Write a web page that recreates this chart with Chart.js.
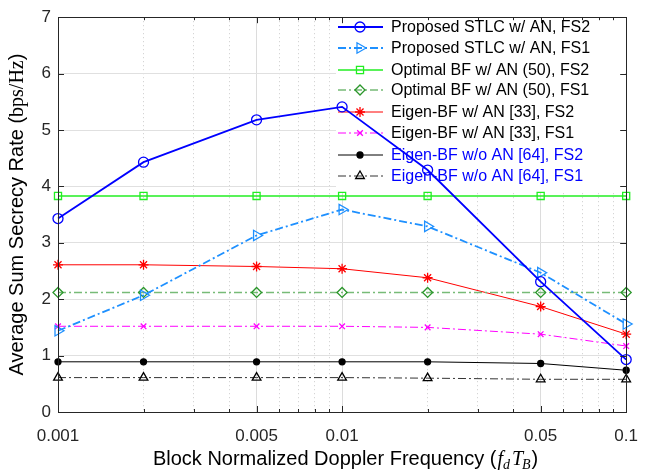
<!DOCTYPE html>
<html>
<head>
<meta charset="utf-8">
<script src="https://cdn.jsdelivr.net/npm/chart.js@4.4.0/dist/chart.umd.min.js"></script>
<style>
  html, body { margin: 0; padding: 0; background: #fff; }
</style>
</head>
<body>
<canvas id="mainChart" width="652" height="474"></canvas>
<script>
// x positions (block normalized Doppler frequency)
var dopplerFreq = [0.001, 0.002, 0.005, 0.01, 0.02, 0.05, 0.1];

// series values
var stlcFS2      = [3.43, 4.43, 5.18, 5.41, 4.29, 2.31, 0.93];
var stlcFS1      = [1.44, 2.07, 3.13, 3.59, 3.29, 2.47, 1.56];
var optBfFS2     = [3.83, 3.83, 3.83, 3.83, 3.83, 3.83, 3.83];
var optBfFS1     = [2.12, 2.12, 2.12, 2.12, 2.12, 2.12, 2.12];
var eigenAnFS2   = [2.61, 2.61, 2.58, 2.54, 2.38, 1.87, 1.38];
var eigenAnFS1   = [1.52, 1.52, 1.52, 1.52, 1.50, 1.38, 1.17];
var eigenNoAnFS2 = [0.89, 0.89, 0.89, 0.89, 0.89, 0.86, 0.74];
var eigenNoAnFS1 = [0.61, 0.61, 0.61, 0.61, 0.60, 0.58, 0.58];

// axis ticks
var xTickLabels = [0.001, 0.005, 0.01, 0.05, 0.1];
var xGridTicks = [0.001, 0.002, 0.003, 0.004, 0.005, 0.006, 0.007, 0.008, 0.009,
                  0.01, 0.02, 0.03, 0.04, 0.05, 0.06, 0.07, 0.08, 0.09, 0.1];
var yTicks = [0, 1, 2, 3, 4, 5, 6, 7];

var DASHDOT = [8, 3, 2, 3];

function isMajor(v) {
    return xTickLabels.some(function (t) { return Math.abs(t - v) < 1e-9; });
}

function makeSet(label, data, color, dash, width, style, radius, markerColor, fill, rot, textColor) {
    return {
        label: label,
        data: data,
        borderColor: color,
        borderWidth: width,
        borderDash: dash,
        pointStyle: style,
        pointRadius: radius,
        pointRotation: rot || 0,
        pointBorderColor: markerColor || color,
        pointBackgroundColor: fill || 'rgba(0,0,0,0)',
        pointBorderWidth: 1.3,
        fill: false,
        clip: false,
        tension: 0,
        legendTextColor: textColor || '#000'
    };
}

var datasets = [
    makeSet('Proposed STLC w/ AN, FS2', stlcFS2, '#0000ff', [], 1.8, 'circle', 5),
    makeSet('Proposed STLC w/ AN, FS1', stlcFS1, '#1e90ff', DASHDOT, 1.8, 'triangle', 6, null, null, 90),
    makeSet('Optimal BF w/ AN (50), FS2', optBfFS2, '#22ee22', [], 1.3, 'rect', 5),
    makeSet('Optimal BF w/ AN (50), FS1', optBfFS1, '#77bb77', DASHDOT, 1.6, 'rectRot', 5, '#2a962a'),
    makeSet('Eigen-BF w/ AN [33], FS2', eigenAnFS2, '#ff0000', [], 1, 'star', 5),
    makeSet('Eigen-BF w/ AN [33], FS1', eigenAnFS1, '#ff00ff', DASHDOT, 1, 'crossRot', 4),
    makeSet('Eigen-BF w/o AN [64], FS2', eigenNoAnFS2, '#000000', [], 1, 'circle', 3, '#000', '#000', 0, '#0000ff'),
    makeSet('Eigen-BF w/o AN [64], FS1', eigenNoAnFS1, '#333333', DASHDOT, 1, 'triangle', 5, '#000', null, 0, '#0000ff')
];

var legendRows = [27, 48, 70, 90, 112, 133, 155, 176];

// white legend box drawn over the grid, under the lines
var insideLegend = {
    id: 'insideLegend',
    beforeDatasetsDraw: function (chart) {
        var ctx = chart.ctx;
        var area = chart.chartArea;
        ctx.save();
        ctx.fillStyle = '#fff';
        ctx.fillRect(336, area.top + 1, area.right - 337, 174);
        datasets.forEach(function (ds, i) {
            var y = legendRows[i];
            ctx.strokeStyle = ds.borderColor;
            ctx.lineWidth = ds.borderWidth;
            ctx.setLineDash(ds.borderDash);
            ctx.beginPath();
            ctx.moveTo(338, y);
            ctx.lineTo(383, y);
            ctx.stroke();
            ctx.setLineDash([]);
            ctx.strokeStyle = ds.pointBorderColor;
            ctx.fillStyle = ds.pointBackgroundColor;
            ctx.lineWidth = ds.pointBorderWidth;
            Chart.helpers.drawPoint(ctx, {
                pointStyle: ds.pointStyle,
                rotation: ds.pointRotation,
                radius: ds.pointRadius,
                borderWidth: ds.pointBorderWidth
            }, 360, y);
            ctx.fillStyle = ds.legendTextColor;
            ctx.font = '16px "Liberation Sans", Arial, sans-serif';
            ctx.textAlign = 'left';
            ctx.textBaseline = 'middle';
            ctx.fillText(ds.label, 391, y + 1);
        });
        ctx.restore();
    }
};

// box, inward ticks and axis titles
var frameAndTitles = {
    id: 'frameAndTitles',
    afterDraw: function (chart) {
        var ctx = chart.ctx;
        var a = chart.chartArea;
        var xs = chart.scales.x;
        var ys = chart.scales.y;
        ctx.save();
        ctx.strokeStyle = '#262626';
        ctx.lineWidth = 1;
        ctx.strokeRect(Math.round(a.left) + 0.5, Math.round(a.top) + 0.5,
                       Math.round(a.right - a.left), Math.round(a.bottom - a.top));
        ctx.beginPath();
        xGridTicks.forEach(function (v) {
            var px = Math.round(xs.getPixelForValue(v)) + 0.5;
            var len = isMajor(v) ? 6 : 3;
            ctx.moveTo(px, a.bottom); ctx.lineTo(px, a.bottom - len);
            ctx.moveTo(px, a.top); ctx.lineTo(px, a.top + len);
        });
        yTicks.forEach(function (v) {
            var py = Math.round(ys.getPixelForValue(v)) + 0.5;
            ctx.moveTo(a.left, py); ctx.lineTo(a.left + 6, py);
            ctx.moveTo(a.right, py); ctx.lineTo(a.right - 6, py);
        });
        ctx.stroke();

        var sans = '"Liberation Sans", Arial, sans-serif';
        var serif = '"Liberation Serif", "DejaVu Serif", serif';
        ctx.fillStyle = '#000';
        ctx.textBaseline = 'alphabetic';
        ctx.textAlign = 'left';

        // x title: Block Normalized Doppler Frequency (f_d T_B)
        var p1 = 'Block Normalized Doppler Frequency (';
        ctx.font = '20px ' + sans;
        var w1 = ctx.measureText(p1).width;
        ctx.font = 'italic 20px ' + serif;
        var wf = ctx.measureText('f').width;
        var wT = ctx.measureText('T').width;
        ctx.font = 'italic 14px ' + serif;
        var wd = ctx.measureText('d').width;
        var wB = ctx.measureText('B').width;
        ctx.font = '20px ' + sans;
        var wp = ctx.measureText(')').width;
        var total = w1 + wf + wd + 2 + wT + wB + wp + 2;
        var x = (a.left + a.right) / 2 - total / 2 + 4;
        var yb = 465;
        ctx.font = '20px ' + sans;
        ctx.fillText(p1, x, yb); x += w1 + 1;
        ctx.font = 'italic 20px ' + serif;
        ctx.fillText('f', x, yb); x += wf;
        ctx.font = 'italic 14px ' + serif;
        ctx.fillText('d', x, yb + 4); x += wd + 2;
        ctx.font = 'italic 20px ' + serif;
        ctx.fillText('T', x, yb); x += wT - 1;
        ctx.font = 'italic 14px ' + serif;
        ctx.fillText('B', x, yb + 4); x += wB + 1;
        ctx.font = '20px ' + sans;
        ctx.fillText(')', x, yb);

        // y title: Average Sum Secrecy Rate (bps/Hz)
        var q1 = 'Average Sum Secrecy Rate (';
        var q2 = 'bps/Hz';
        var q3 = ')';
        ctx.font = '20px ' + sans;
        var v1 = ctx.measureText(q1).width;
        var v3 = ctx.measureText(q3).width;
        ctx.font = '20px ' + serif;
        var v2 = ctx.measureText(q2).width;
        var tot = v1 + v2 + v3;
        ctx.translate(23, (a.top + a.bottom) / 2);
        ctx.rotate(-Math.PI / 2);
        var sx = -tot / 2;
        ctx.font = '20px ' + sans;
        ctx.fillText(q1, sx, 0);
        ctx.font = '20px ' + serif;
        ctx.fillText(q2, sx + v1, 0);
        ctx.font = '20px ' + sans;
        ctx.fillText(q3, sx + v1 + v2, 0);
        ctx.restore();
    }
};

var ctx = document.getElementById('mainChart').getContext('2d');
var chart = new Chart(ctx, {
    type: 'line',
    data: {
        datasets: datasets.map(function (ds) {
            return Object.assign({}, ds, {
                data: ds.data.map(function (v, i) { return { x: dopplerFreq[i], y: v }; })
            });
        })
    },
    options: {
        responsive: false,
        animation: false,
        events: [],
        layout: { padding: { top: 12, right: 24, left: 0, bottom: 0 } },
        plugins: {
            legend: { display: false },
            tooltip: { enabled: false }
        },
        scales: {
            x: {
                type: 'logarithmic',
                min: 0.001,
                max: 0.1,
                afterBuildTicks: function (scale) {
                    scale.ticks = xGridTicks.map(function (v) { return { value: v }; });
                },
                afterFit: function (scale) { scale.height = 62; },
                ticks: {
                    autoSkip: false,
                    maxRotation: 0,
                    padding: 14,
                    color: '#262626',
                    font: { family: '"Liberation Sans", Arial, sans-serif', size: 17 },
                    callback: function (value) {
                        return isMajor(value) ? String(value) : '';
                    }
                },
                grid: {
                    drawTicks: false,
                    color: function (c) { return isMajor(c.tick.value) ? '#dcdcdc' : '#cccccc'; },
                    lineWidth: 1
                },
                border: {
                    display: false,
                    dash: function (c) { return isMajor(c.tick.value) ? [] : [1, 3]; }
                }
            },
            y: {
                min: 0,
                max: 7,
                afterFit: function (scale) { scale.width = 58; },
                ticks: {
                    stepSize: 1,
                    padding: 7,
                    color: '#262626',
                    font: { family: '"Liberation Sans", Arial, sans-serif', size: 17 }
                },
                grid: {
                    drawTicks: false,
                    color: '#e0e0e0',
                    lineWidth: 1
                },
                border: { display: false }
            }
        }
    },
    plugins: [insideLegend, frameAndTitles]
});
</script>
</body>
</html>
